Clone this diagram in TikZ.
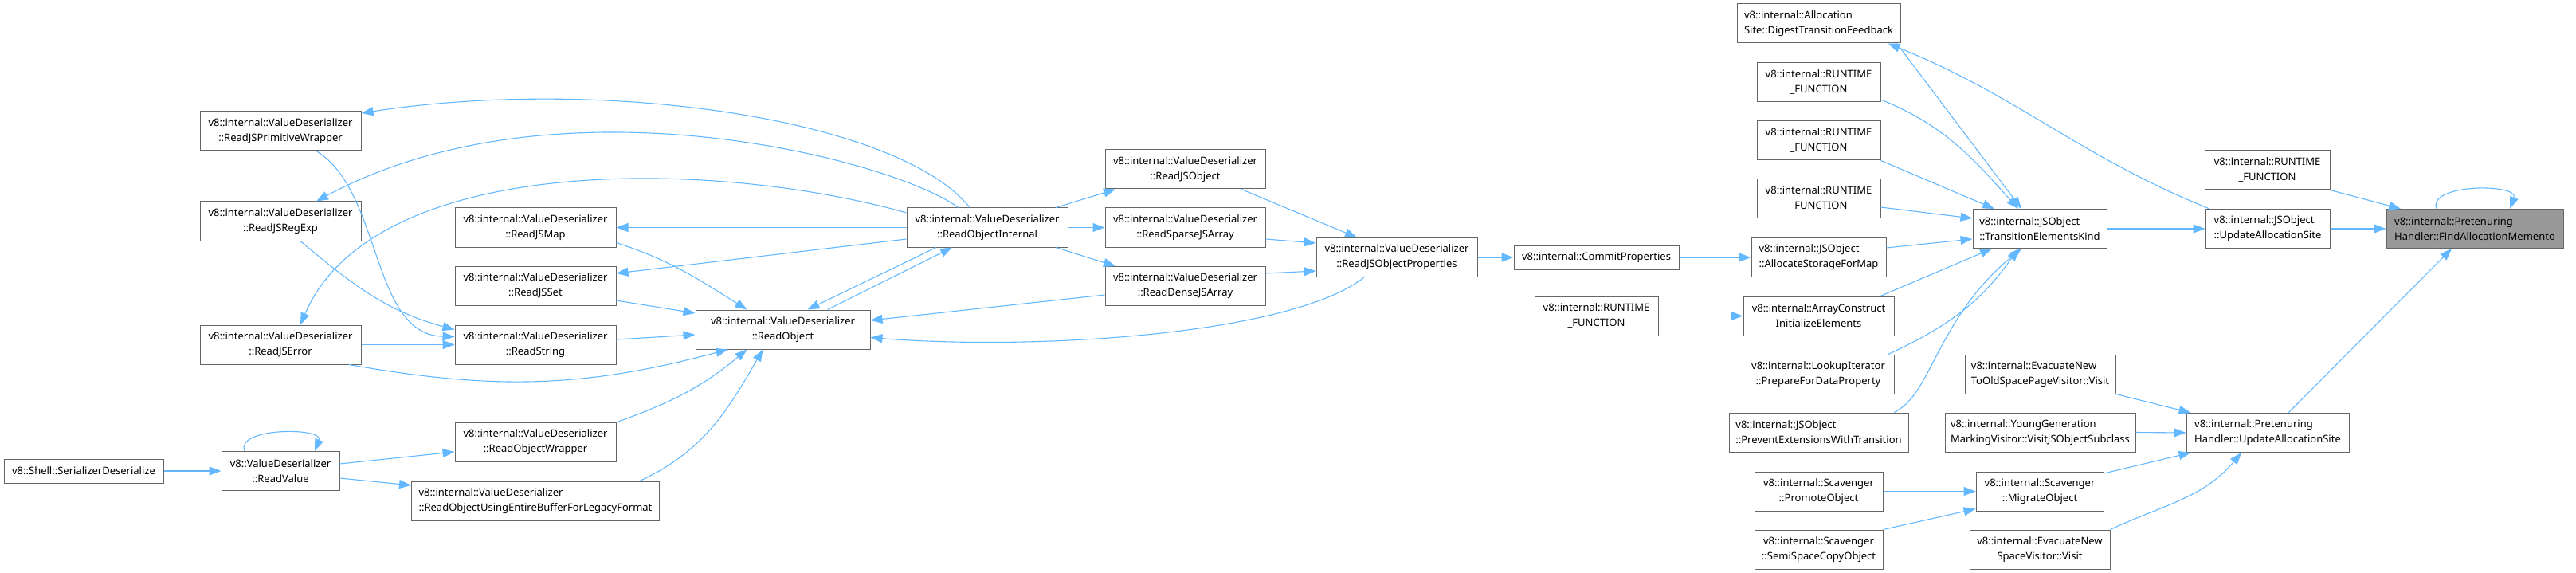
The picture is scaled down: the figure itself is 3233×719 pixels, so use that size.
\documentclass[tikz,border=0pt]{standalone}
\usepackage{fontspec}
\setmainfont{Noto Sans}
\usepackage{xcolor}
\usepackage{tikz}
\usetikzlibrary{arrows.meta}
\definecolor{edgeBlue}{HTML}{63B8FF}
\definecolor{boxLine}{HTML}{666666}
\definecolor{boxMain}{HTML}{999999}
\tikzset{
  box/.style={rectangle, draw=boxLine, line width=1pt, fill=white, align=center, inner sep=0pt, minimum height=49pt, font=\fontsize{13pt}{19pt}\selectfont},
  lbox/.style={box, align=left},
  onebox/.style={box, minimum height=30pt},
  mainbox/.style={lbox, fill=boxMain},
  arrow/.style={-{Triangle[length=15pt,width=11pt]}, line width=1.1pt, draw=edgeBlue}
}

\begin{document}
\begin{tikzpicture}[x=1pt, y=1pt]
  \useasboundingbox (0,0) rectangle (3233,-719);

  \node[onebox, minimum width=200pt] (serdes) at (105,-591) {v8::Shell::SerializerDeserialize};
  \node[box, minimum width=148pt] (readvalue) at (352,-591) {v8::ValueDeserializer\\::ReadValue};
  \node[box, minimum width=202pt] (primwrap) at (352,-164.5) {v8::internal::ValueDeserializer\\::ReadJSPrimitiveWrapper};
  \node[box, minimum width=202pt] (regexp) at (352,-277.5) {v8::internal::ValueDeserializer\\::ReadJSRegExp};
  \node[box, minimum width=202pt] (jserror) at (352,-432.5) {v8::internal::ValueDeserializer\\::ReadJSError};
  \node[box, minimum width=202pt] (jsmap) at (672,-285.5) {v8::internal::ValueDeserializer\\::ReadJSMap};
  \node[box, minimum width=202pt] (jsset) at (672,-358.5) {v8::internal::ValueDeserializer\\::ReadJSSet};
  \node[box, minimum width=202pt] (readstring) at (672,-432.5) {v8::internal::ValueDeserializer\\::ReadString};
  \node[box, minimum width=202pt] (objwrap) at (672,-555) {v8::internal::ValueDeserializer\\::ReadObjectWrapper};
  \node[lbox, minimum width=311pt] (legacy) at (672,-628.5) {v8::internal::ValueDeserializer\\::ReadObjectUsingEntireBufferForLegacyFormat};
  \node[box, minimum width=219pt] (readobject) at (982.5,-413.5) {v8::internal::ValueDeserializer\\::ReadObject};
  \node[box, minimum width=202pt] (readobjint) at (1239,-285.5) {v8::internal::ValueDeserializer\\::ReadObjectInternal};
  \node[box, minimum width=201pt] (jsobject) at (1487.5,-212.5) {v8::internal::ValueDeserializer\\::ReadJSObject};
  \node[box, minimum width=201pt] (sparse) at (1487.5,-285.5) {v8::internal::ValueDeserializer\\::ReadSparseJSArray};
  \node[box, minimum width=201pt] (dense) at (1487.5,-359) {v8::internal::ValueDeserializer\\::ReadDenseJSArray};
  \node[box, minimum width=202pt] (jsobjprops) at (1753,-323) {v8::internal::ValueDeserializer\\::ReadJSObjectProperties};
  \node[onebox, minimum width=207pt] (commit) at (2003.5,-323) {v8::internal::CommitProperties};
  \node[box, minimum width=155pt] (runtimeL) at (2003.5,-396.5) {v8::internal::RUNTIME\\\_FUNCTION};
  \node[lbox, minimum width=205pt] (digest) at (2282.5,-29.5) {v8::internal::Allocation\\Site::DigestTransitionFeedback};
  \node[box, minimum width=155pt] (runtimeA) at (2282.5,-103) {v8::internal::RUNTIME\\\_FUNCTION};
  \node[box, minimum width=155pt] (runtimeB) at (2282.5,-176.5) {v8::internal::RUNTIME\\\_FUNCTION};
  \node[box, minimum width=155pt] (runtimeC) at (2282.5,-249.5) {v8::internal::RUNTIME\\\_FUNCTION};
  \node[lbox, minimum width=169pt] (allocmap) at (2282.5,-323) {v8::internal::JSObject\\::AllocateStorageForMap};
  \node[box, minimum width=189pt] (arrayinit) at (2282.5,-396.5) {v8::internal::ArrayConstruct\\InitializeElements};
  \node[box, minimum width=190pt] (lookup) at (2282,-469.5) {v8::internal::LookupIterator\\::PrepareForDataProperty};
  \node[lbox, minimum width=225pt] (prevent) at (2282.5,-542.5) {v8::internal::JSObject\\::PreventExtensionsWithTransition};
  \node[box, minimum width=161pt] (promote) at (2282.5,-616.5) {v8::internal::Scavenger\\::PromoteObject};
  \node[box, minimum width=161pt] (semispace) at (2282.5,-689.5) {v8::internal::Scavenger\\::SemiSpaceCopyObject};
  \node[lbox, minimum width=168pt] (tek) at (2560,-287) {v8::internal::JSObject\\::TransitionElementsKind};
  \node[lbox, minimum width=189pt] (evacold) at (2560.5,-469.5) {v8::internal::EvacuateNew\\ToOldSpacePageVisitor::Visit};
  \node[lbox, minimum width=239pt] (younggen) at (2560.5,-542.5) {v8::internal::YoungGeneration\\MarkingVisitor::VisitJSObjectSubclass};
  \node[box, minimum width=160pt] (migrate) at (2560,-616.5) {v8::internal::Scavenger\\::MigrateObject};
  \node[box, minimum width=176pt] (evacnew) at (2560,-689.5) {v8::internal::EvacuateNew\\SpaceVisitor::Visit};
  \node[box, minimum width=157pt] (runtimeR) at (2845.5,-213.5) {v8::internal::RUNTIME\\\_FUNCTION};
  \node[lbox, minimum width=156pt] (uasjs) at (2846,-287) {v8::internal::JSObject\\::UpdateAllocationSite};
  \node[mainbox, minimum width=222pt] (fam) at (3106,-287) {v8::internal::Pretenuring\\Handler::FindAllocationMemento};
  \node[lbox, minimum width=204pt] (phuas) at (2846,-543) {v8::internal::Pretenuring\\Handler::UpdateAllocationSite};

  \draw[arrow] (serdes) -- (readvalue);
  \draw[arrow] ([xshift=-45pt]readvalue.north) .. controls +(-12,30) and +(12,30) .. ([xshift=43pt]readvalue.north);
  \draw[arrow] ([yshift=9pt]readvalue.east) -- ([yshift=-12pt]objwrap.west);
  \draw[arrow] ([yshift=-9pt]readvalue.east) -- ([yshift=19.5pt]legacy.west);
  \draw[arrow] (objwrap.north east) to[out=20, in=-140] ([xshift=-45pt]readobject.south);
  \draw[arrow] ([xshift=131pt]legacy.north) to[out=25, in=-120] ([xshift=-25pt]readobject.south);
  \draw[arrow] ([xshift=86pt]jserror.south) to[out=-10, in=-165] ([xshift=-69pt]readobject.south);
  \draw[arrow] (jserror.east) -- (readstring.west);
  \draw[arrow] ([xshift=25pt]regexp.south) to[out=-40, in=165] ([yshift=19pt]readstring.west);
  \draw[arrow] ([xshift=45pt]primwrap.south) .. controls (480,-240) and (465,-420) .. ([yshift=10pt]readstring.west);
  \draw[arrow] ([xshift=-22pt]readobjint.north) .. controls (1130,-150) and (760,-95) .. ([yshift=22.5pt]primwrap.east);
  \draw[arrow] ([xshift=-36pt]readobjint.north) .. controls (1120,-200) and (700,-90) .. ([xshift=45pt]regexp.north);
  \draw[arrow] ([yshift=18.5pt]readobjint.west) .. controls (900,-200) and (470,-190) .. ([xshift=25pt]jserror.north);
  \draw[arrow] (readobjint.west) -- (jsmap.east);
  \draw[arrow] ([yshift=-14.5pt]readobjint.west) -- ([yshift=15.5pt]jsset.east);
  \draw[arrow] ([xshift=-64pt]readobjint.south) -- ([xshift=31pt]readobject.north);
  \draw[arrow] ([xshift=56pt]readobject.north) -- ([xshift=-44pt]readobjint.south);
  \draw[arrow] ([yshift=-19pt]jsmap.east) to[out=-18, in=148] ([xshift=-45pt]readobject.north);
  \draw[arrow] ([yshift=-18.5pt]jsset.east) -- ([yshift=20.5pt]readobject.west);
  \draw[arrow] ([yshift=6.5pt]readstring.east) -- ([yshift=-6.5pt]readobject.west);
  \draw[arrow] ([xshift=86pt]readobjint.north) -- ([xshift=-87.5pt]jsobject.south);
  \draw[arrow] (readobjint.east) -- (sparse.west);
  \draw[arrow] ([xshift=86pt]readobjint.south) -- ([xshift=-87.5pt]dense.north);
  \draw[arrow] ([yshift=-11pt]dense.west) -- ([yshift=11.5pt]readobject.east);
  \draw[arrow] ([xshift=-41pt]jsobjprops.south) .. controls (1620,-420) and (1300,-440) .. ([yshift=-10pt]readobject.east);
  \draw[arrow] ([xshift=70.5pt]jsobject.south) -- ([xshift=-50pt]jsobjprops.north);
  \draw[arrow] ([yshift=-14.5pt]sparse.east) -- ([yshift=18pt]jsobjprops.west);
  \draw[arrow] ([yshift=16pt]dense.east) -- ([yshift=-17pt]jsobjprops.west);
  \draw[arrow] (jsobjprops) -- (commit);
  \draw[arrow] (commit) -- (allocmap);
  \draw[arrow] (runtimeL) -- (arrayinit);
  \draw[arrow] ([yshift=12pt]allocmap.east) -- ([yshift=-13pt]tek.west);
  \draw[arrow] ([yshift=-10.5pt]runtimeC.east) -- ([yshift=13pt]tek.west);
  \draw[arrow] (runtimeB.south east) -- ([xshift=-57pt]tek.north);
  \draw[arrow] ([yshift=-22pt]runtimeA.east) to[out=-22, in=132] ([xshift=-27pt]tek.north);
  \draw[arrow] ([xshift=-5pt]digest.south east) -- ([xshift=-23pt]tek.north);
  \draw[arrow] ([xshift=77.5pt]arrayinit.north) -- ([xshift=-60pt]tek.south);
  \draw[arrow] ([xshift=88pt]lookup.north) to[out=25, in=-125] ([xshift=-27pt]tek.south);
  \draw[arrow] ([xshift=94.5pt]prevent.north) .. controls (2425,-495) and (2430,-400) .. ([xshift=-23pt]tek.south);
  \draw[arrow] (tek) -- (uasjs);
  \draw[arrow] ([xshift=-73pt]uasjs.north) to[out=158, in=-22] ([xshift=87pt]digest.south);
  \draw[arrow] (uasjs) -- (fam);
  \draw[arrow] (runtimeR.south east) -- ([xshift=-93pt]fam.north);
  \draw[arrow] ([xshift=-48pt]fam.north) .. controls +(-12,32) and +(12,32) .. ([xshift=44pt]fam.north);
  \draw[arrow] ([xshift=26pt]phuas.north) -- ([xshift=-29pt]fam.south);
  \draw[arrow] (evacold.south east) -- ([xshift=6pt]phuas.north west);
  \draw[arrow] (younggen.east) -- (phuas.west);
  \draw[arrow] ([yshift=22.5pt]migrate.east) -- ([xshift=6pt]phuas.south west);
  \draw[arrow] (evacnew.north east) to[out=25, in=-130] ([xshift=-33pt]phuas.south);
  \draw[arrow] (promote) -- (migrate);
  \draw[arrow] (semispace.north east) -- ([yshift=-22pt]migrate.west);
\end{tikzpicture}
\end{document}
